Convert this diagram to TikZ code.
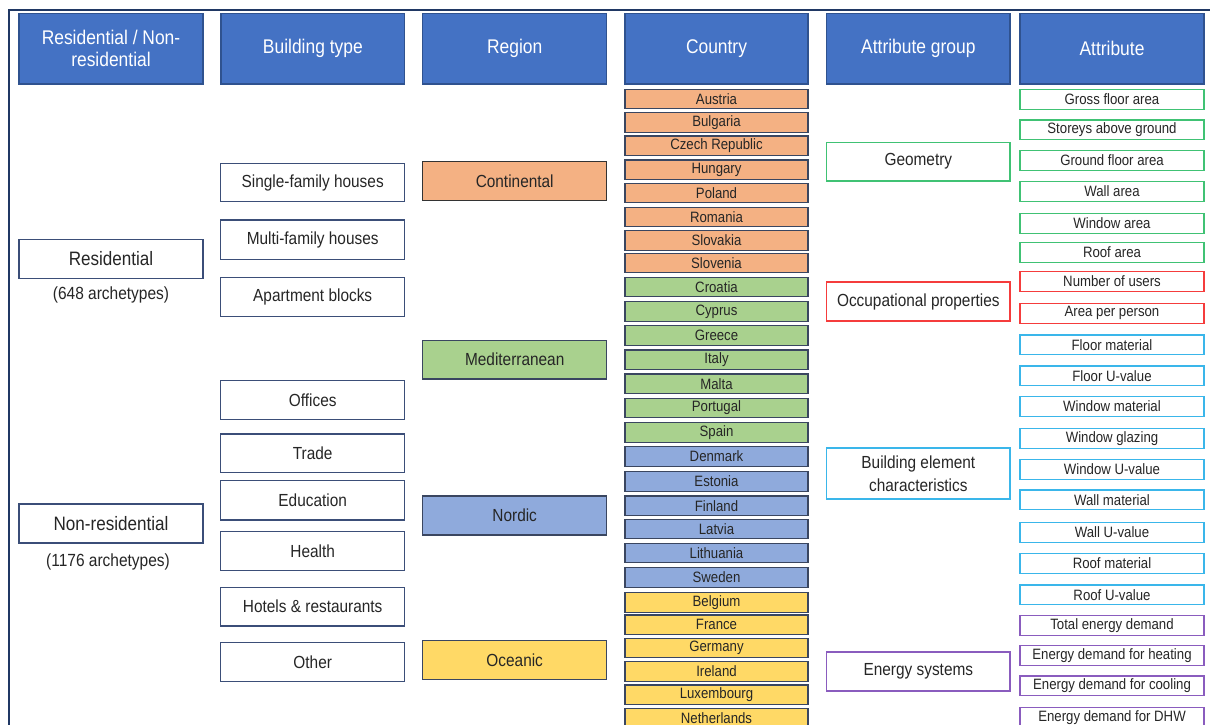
\documentclass[tikz,border=0pt]{standalone}
\usepackage{fontspec}
\setmainfont[FakeStretch=0.88]{Liberation Sans}
\definecolor{hdrblue}{HTML}{4472C4}
\definecolor{hdrborder}{HTML}{2F528F}
\definecolor{navy}{HTML}{3B4E78}
\definecolor{frame}{HTML}{203864}
\definecolor{corange}{HTML}{F4B183}
\definecolor{cgreen}{HTML}{A9D18E}
\definecolor{cblue}{HTML}{8FAADC}
\definecolor{cyellow}{HTML}{FFD966}
\definecolor{cborder}{HTML}{3A4660}
\definecolor{agreen}{HTML}{40C274}
\definecolor{ared}{HTML}{F53C3C}
\definecolor{acyan}{HTML}{3AB6EA}
\definecolor{apurple}{HTML}{8A5CBE}
\newcommand\bx[7]{\node[#1, minimum width={#5pt-#3pt}, minimum height={#6pt-#4pt}, inner sep=0pt] (#2) at ({(#3+#5)/2},{(#4+#6)/2}) {#7};}
\begin{document}
\begin{tikzpicture}[x=1pt,y=-1pt,
  hdr/.style={draw=hdrborder, line width=1.2pt, fill=hdrblue, text=white, align=center, font=\fontsize{19.8}{22}\selectfont},
  wbox/.style={draw=navy, line width=1.2pt, fill=white, align=center, font=\fontsize{17.5}{20}\selectfont, text=black!85},
  bigbox/.style={wbox, font=\fontsize{19.4}{22}\selectfont},
  region/.style={draw=cborder, line width=1.2pt, align=center, font=\fontsize{17.5}{20}\selectfont, text=black!85},
  ctry/.style={draw=cborder, line width=1.1pt, font=\fontsize{15}{17}\selectfont, text=black!85},
  attr/.style={line width=1.1pt, fill=white, font=\fontsize{15}{17}\selectfont, text=black!85},
  grp/.style={line width=1.1pt, fill=white, align=center, font=\fontsize{17.5}{22.5}\selectfont, text=black!85},
  note/.style={font=\fontsize{17.6}{20}\selectfont, text=black!85}]
\useasboundingbox (0,0) rectangle (1210,725);
\fill[white] (0,0) rectangle (1210,725);
% frame
\coordinate (fa) at (9,725);
\coordinate (fb) at (9,10);
\coordinate (fc) at (1210,10);
\draw[frame, line width=1.3pt] (fa) -- (fb) -- (fc);
% headers
\bx{hdr}{h1}{19}{13.3}{203}{84}{Residential / Non-\\residential}
\bx{hdr}{h2}{221}{13.3}{404.7}{84}{Building type}
\bx{hdr}{h3}{422.7}{13.3}{606.7}{84}{Region}
\bx{hdr}{h4}{625}{13.3}{808}{84}{Country}
\bx{hdr}{h5}{826.7}{13.3}{1010}{84}{Attribute group}
\bx{hdr}{h6}{1020}{13.3}{1204}{84}{Attribute}
% column 1
\bx{bigbox}{res}{19}{239.3}{203}{278.3}{Residential}
\node[note] (resn) at (111,295) {(648 archetypes)};
\bx{bigbox}{nres}{19}{504}{203}{543}{Non-residential}
\node[note] (nresn) at (108,562) {(1176 archetypes)};
% column 2
\bx{wbox}{b1}{220.7}{163.3}{404.7}{201.7}{Single-family houses}
\bx{wbox}{b2}{220.7}{220}{404.7}{259.3}{Multi-family houses}
\bx{wbox}{b3}{220.7}{277.3}{404.7}{316.7}{Apartment blocks}
\bx{wbox}{b4}{220.7}{380.7}{404.7}{419.3}{Offices}
\bx{wbox}{b5}{220.7}{434}{404.7}{472.7}{Trade}
\bx{wbox}{b6}{220.7}{480.7}{404.7}{520}{Education}
\bx{wbox}{b7}{220.7}{531.7}{404.7}{570.7}{Health}
\bx{wbox}{b8}{220.7}{587.3}{404.7}{626}{Hotels \& restaurants}
\bx{wbox}{b9}{220.7}{642.3}{404.7}{681.3}{Other}
% column 3
\bx{region,fill=corange,draw=black!80}{r1}{422.7}{161.7}{606.7}{200.3}{Continental}
\bx{region,fill=cgreen}{r2}{422.7}{340.3}{606.7}{379}{Mediterranean}
\bx{region,fill=cblue}{r3}{422.7}{496}{606.7}{535}{Nordic}
\bx{region,fill=cyellow}{r4}{422.7}{640.7}{606.7}{679.3}{Oceanic}
% column 4: countries
\foreach \t/\n [count=\i] in {89.3/Austria,112.7/Bulgaria,136/Czech Republic,160/Hungary,183.3/Poland,207.3/Romania,230.7/Slovakia,253.3/Slovenia}
  {\bx{ctry,fill=corange}{co\i}{625}{\t}{808}{\t+19.6}{\n}}
\foreach \t/\n [count=\i] in {277.3/Croatia,301.7/Cyprus,325.7/Greece,350/Italy,374/Malta,398.3/Portugal,422.7/Spain}
  {\bx{ctry,fill=cgreen}{cm\i}{625}{\t}{808}{\t+19.6}{\n}}
\foreach \t/\n [count=\i] in {446.7/Denmark,471.7/Estonia,496/Finland,519.3/Latvia,543.3/Lithuania,567.7/Sweden}
  {\bx{ctry,fill=cblue}{cn\i}{625}{\t}{808}{\t+19.6}{\n}}
\foreach \t/\n [count=\i] in {592.7/Belgium,615/France,638.3/Germany,661.7/Ireland,685/Luxembourg,708.3/Netherlands}
  {\bx{ctry,fill=cyellow}{cy\i}{625}{\t}{808}{\t+19.6}{\n}}
% column 5: attribute groups
\bx{grp,draw=agreen}{g1}{826.7}{142.3}{1010}{181}{Geometry}
\bx{grp,draw=ared}{g2}{826.7}{282}{1010}{321}{Occupational properties}
\bx{grp,draw=acyan}{g3}{826.7}{448}{1010}{499}{Building element\\characteristics}
\bx{grp,draw=apurple}{g4}{826.7}{652}{1010}{691}{Energy systems}
% column 6: attributes
\foreach \t/\n [count=\i] in {89.3/Gross floor area,120/Storeys above ground,150.7/Ground floor area,181.7/Wall area,213.3/Window area,242.3/Roof area}
  {\bx{attr,draw=agreen}{ag\i}{1020}{\t}{1204}{\t+19.8}{\n}}
\foreach \t/\n [count=\i] in {271.7/Number of users,303.3/Area per person}
  {\bx{attr,draw=ared}{ar\i}{1020}{\t}{1204}{\t+19.8}{\n}}
\foreach \t/\n [count=\i] in {335/Floor material,366/Floor U-value,396.7/Window material,428.3/Window glazing,459.3/Window U-value,490/Wall material,522.7/Wall U-value,553.3/Roof material,585/Roof U-value}
  {\bx{attr,draw=acyan}{ac\i}{1020}{\t}{1204}{\t+19.8}{\n}}
\foreach \t/\n [count=\i] in {615.7/Total energy demand,645.7/Energy demand for heating,676/Energy demand for cooling,707.3/Energy demand for DHW}
  {\bx{attr,draw=apurple}{ap\i}{1020}{\t}{1204}{\t+19.8}{\n}}
\end{tikzpicture}
\end{document}
